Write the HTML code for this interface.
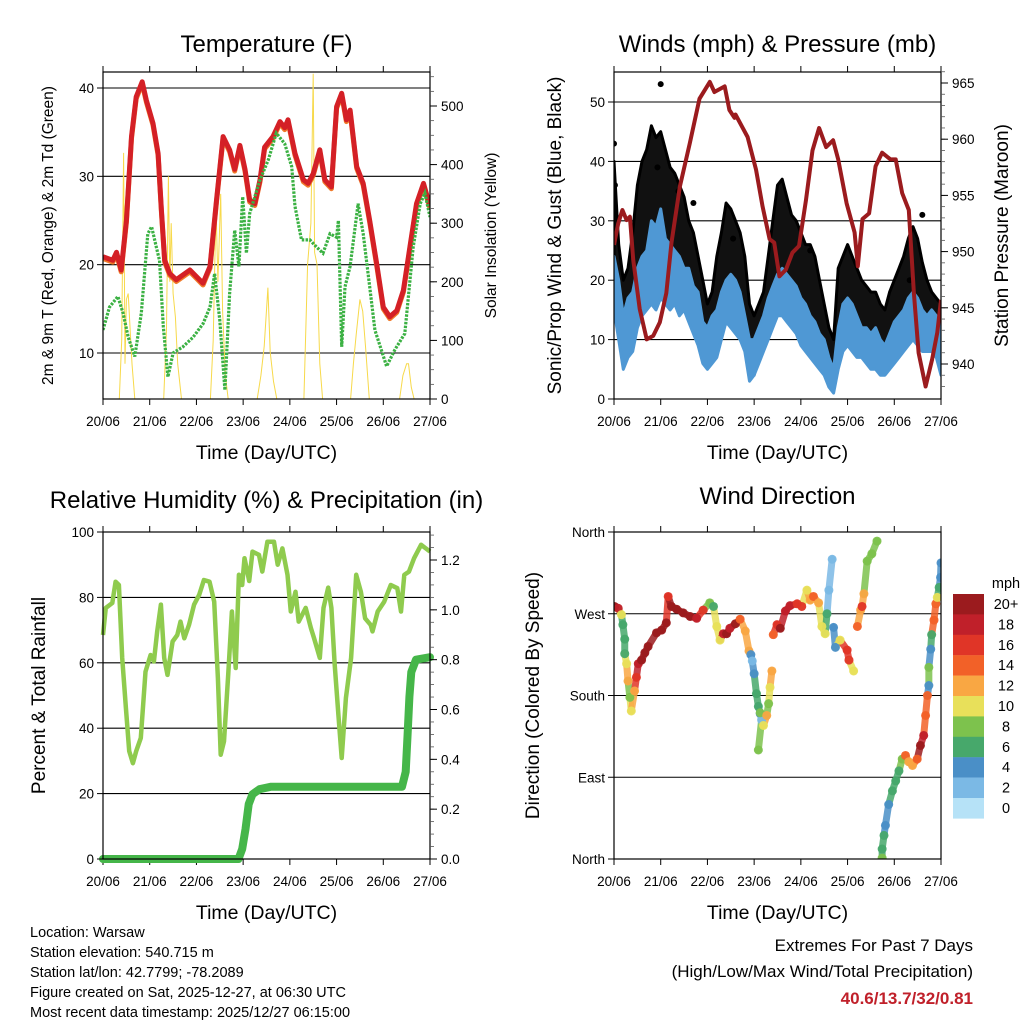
<!DOCTYPE html>
<html><head><meta charset="utf-8">
<style>
body{margin:0;background:#fff;}
svg{display:block;font-family:"Liberation Sans",Arial,sans-serif;}
</style></head>
<body>
<svg id="root" width="1024" height="1024" viewBox="0 0 1024 1024" xmlns="http://www.w3.org/2000/svg">
<g id="g1"></g>
<g id="g2"></g>
<g id="g3"></g>
<g id="g4"></g>
<g id="legend"></g>
<g font-size="14.5" fill="#000">
<text x="30" y="937">Location: Warsaw</text>
<text x="30" y="957">Station elevation: 540.715 m</text>
<text x="30" y="977">Station lat/lon: 42.7799; -78.2089</text>
<text x="30" y="997">Figure created on Sat, 2025-12-27, at 06:30 UTC</text>
<text x="30" y="1017">Most recent data timestamp: 2025/12/27 06:15:00</text>
</g>
<g text-anchor="end">
<text x="973" y="951" font-size="17">Extremes For Past 7 Days</text>
<text x="973" y="977" font-size="17">(High/Low/Max Wind/Total Precipitation)</text>
<text x="973" y="1004" font-size="17" font-weight="bold" fill="#c0202a">40.6/13.7/32/0.81</text>
</g>
</svg>
<script>
// ---------- data ----------
const dayLabels=["20/06","21/06","22/06","23/06","24/06","25/06","26/06","27/06"];
const tempDays=[0,0.21,0.29,0.39,0.5,0.61,0.71,0.84,0.93,1.07,1.18,1.25,1.32,1.43,1.57,1.86,2.14,2.29,2.43,2.57,2.71,2.82,2.93,3.04,3.14,3.25,3.36,3.46,3.64,3.79,3.89,3.96,4.11,4.29,4.39,4.5,4.64,4.75,4.89,5.0,5.11,5.21,5.29,5.43,5.57,5.71,5.86,6.0,6.14,6.29,6.43,6.57,6.71,6.86,7.0];
const tempF=[20.9,20.5,21.4,19.4,25,34.5,39,40.7,38.6,36,32.6,26.2,20.5,19,18.3,19.4,17.9,19.8,27.3,34.5,33,30.8,33.5,30.8,27.3,26.9,29.6,33.3,34.5,36.2,35.5,36.4,32.6,29.6,29.2,30.3,33,29.6,28.8,37.9,39.4,36.4,37.5,31.1,29.2,25,20.1,15.2,14.1,14.8,17.1,22,26.9,29.2,26.6];
const dewDays=[0,0.14,0.32,0.43,0.54,0.68,0.82,0.96,1.04,1.14,1.21,1.29,1.39,1.5,1.71,1.93,2.14,2.29,2.39,2.5,2.61,2.71,2.82,2.91,2.99,3.07,3.14,3.36,3.54,3.71,3.89,4.04,4.11,4.25,4.43,4.57,4.71,4.86,5.0,5.04,5.11,5.18,5.29,5.46,5.57,5.71,5.82,6.07,6.25,6.46,6.64,6.79,6.89,7.0];
const dewF=[12.6,15.2,16.4,14.5,11.8,9.6,14.5,23.5,24.3,22,20.5,13,7.3,10,10.7,11.8,13.3,15.2,19,13.7,5.8,16.7,23.9,19.8,27.7,21.3,25.8,29.6,31.9,34.9,33.7,31.1,26.6,22.8,22.8,22,21.3,23.5,23.1,25,10.7,17.5,19.8,26.9,23.5,17.5,12.6,8.5,10.4,12.2,22,26.9,28.1,25.4];
const solarDays=[0,0.35,0.4,0.44,0.47,0.5,0.54,0.58,0.62,0.68,1.3,1.36,1.4,1.43,1.46,1.5,1.55,1.6,1.68,2.3,2.36,2.42,2.46,2.52,2.56,2.62,2.68,3.3,3.38,3.45,3.53,3.58,3.65,3.72,4.3,4.38,4.45,4.5,4.53,4.58,4.64,4.7,5.3,5.36,5.42,5.5,5.56,5.62,5.7,6.35,6.42,6.5,6.54,6.6,6.66,7];
const solarW=[0,0,100,420,60,170,180,120,60,0,0,120,380,200,300,180,140,60,0,0,100,330,200,350,150,40,0,0,40,90,190,80,30,0,0,230,300,555,250,230,60,0,0,60,110,170,150,90,0,0,40,60,60,20,0,0];

const windDays=[0,0.1,0.2,0.3,0.4,0.5,0.6,0.7,0.8,0.9,1.0,1.1,1.2,1.3,1.4,1.5,1.6,1.7,1.8,1.9,2.0,2.1,2.2,2.3,2.4,2.5,2.6,2.7,2.8,2.9,3.0,3.1,3.2,3.3,3.4,3.5,3.6,3.7,3.8,3.9,4.0,4.1,4.2,4.3,4.4,4.5,4.6,4.7,4.8,4.9,5.0,5.1,5.2,5.3,5.4,5.5,5.6,5.7,5.8,5.9,6.0,6.1,6.2,6.3,6.4,6.5,6.6,6.7,6.8,6.9,7.0];
const sonicLo=[15,10,5,7,8,12,14,15,16,15,17,16,15,16,14,15,13,11,9,6,5,6,7,10,13,12,11,10,8,3,4,6,8,10,12,14,14,13,12,11,9,8,7,6,5,4,2,1,5,8,9,8,7,7,6,5,5,4,4,5,6,7,8,9,10,9,8,8,8,7,4];
const sonicHi=[24,20,14,17,18,22,24,25,30,29,32,27,26,25,24,22,22,19,18,13,12,14,15,18,20,21,20,18,14,10,10,12,14,17,19,21,22,21,20,19,17,16,14,13,11,10,7,5,12,16,17,16,14,12,12,11,12,10,9,11,13,14,15,17,18,17,15,14,15,14,12];
const gustLo=[20,12,10,10,12,18,20,22,24,22,22,20,20,22,20,18,18,16,14,10,8,8,10,14,18,18,16,14,10,4,4,8,10,14,16,20,22,20,18,16,14,12,12,10,8,6,4,2,8,12,14,13,12,11,10,9,8,8,7,8,10,11,12,14,16,14,12,11,10,9,8];
const gustHi=[40,26,20,22,28,36,40,42,46,44,45,42,39,38,36,34,30,28,24,20,16,18,24,28,33,32,30,28,24,16,14,16,18,24,30,36,37,34,31,30,28,26,26,24,20,16,12,10,22,24,26,24,22,20,19,18,18,16,15,18,20,22,24,27,29,27,23,20,18,17,16];
const gustOutDays=[0.0,1.0,0.93,1.38,1.7,2.55,4.2,6.6,6.33,0.02];
const gustOutMph=[43,53,39,35,33,27,25,31,20,36];
const presDays=[0,0.09,0.18,0.27,0.34,0.41,0.55,0.7,0.84,0.98,1.12,1.23,1.41,1.62,1.83,2.05,2.15,2.37,2.47,2.58,2.6,2.86,3.04,3.18,3.33,3.43,3.54,3.68,3.82,3.96,4.11,4.25,4.39,4.54,4.69,4.8,4.98,5.15,5.22,5.32,5.46,5.6,5.74,5.92,6.03,6.17,6.31,6.42,6.52,6.67,6.81,6.92,7.0];
const presMb=[950.6,952.5,953.7,952.8,953.1,949.3,944.9,942.2,942.5,943.7,946.3,950.8,955.8,959.6,963.6,965.1,964.2,964.7,962.6,961.9,962.2,960.2,957.3,954,951.1,950.8,947.8,948.4,949.9,950.5,954.6,959,961,959.3,959.9,958.2,954.3,951.7,948.7,952.9,953.4,957.6,958.8,958.2,958.2,955.2,953.7,946.3,941,938,940.4,942.8,945.7];

const rhDays=[0,0.06,0.2,0.27,0.34,0.41,0.49,0.56,0.64,0.71,0.81,0.91,1.02,1.09,1.16,1.24,1.31,1.38,1.49,1.59,1.66,1.74,1.84,1.95,2.06,2.16,2.28,2.38,2.46,2.52,2.59,2.68,2.76,2.84,2.91,2.98,3.03,3.13,3.2,3.34,3.41,3.52,3.66,3.74,3.84,3.95,4.02,4.12,4.19,4.34,4.45,4.52,4.64,4.72,4.82,4.89,4.96,5.04,5.11,5.2,5.31,5.42,5.52,5.61,5.73,5.77,5.88,6.02,6.16,6.3,6.38,6.45,6.55,6.66,6.81,6.91,7.0];
const rhPct=[68.5,76.8,78.3,84.8,83.8,61.5,46.2,33,29.3,33,37,57.3,62.4,60.4,69.6,77.8,61.5,56.3,66.5,68.5,72.6,67.5,71.6,77.8,80.8,85.3,84.8,78.7,55.3,31.9,36,56.3,75.7,58.4,86.9,83.8,92,85,94,93,87.9,97,97,90,95,86.9,75.7,81.7,72.6,76.8,70.6,67.5,61.5,76.8,83,76.8,59.4,44.1,30.9,49.2,61.5,86.9,81.7,73.6,71.6,69.6,75.7,78.7,83.8,82.8,75.7,86.9,87.9,92,96.1,95,94];
const precipDays=[0,2.9,2.98,3.05,3.12,3.2,3.35,3.6,6.4,6.48,6.52,6.56,6.6,6.7,7.0];
const precipIn=[0,0,0.04,0.12,0.22,0.26,0.28,0.29,0.29,0.35,0.5,0.65,0.75,0.8,0.81];

const dirDays=[0.01,0.09,0.16,0.19,0.23,0.23,0.27,0.3,0.34,0.37,0.44,0.48,0.52,0.59,0.66,0.73,0.91,1.02,1.12,1.16,1.23,1.34,1.48,1.63,1.77,1.91,2.05,2.13,2.2,2.27,2.34,2.41,2.48,2.6,2.7,2.81,2.89,2.93,2.96,3.0,3.05,3.09,3.13,3.16,3.09,3.13,3.2,3.27,3.31,3.34,3.38,3.41,3.49,3.56,3.67,3.77,3.92,4.02,4.13,4.2,4.27,4.38,4.45,4.52,4.56,4.6,4.67,4.7,4.74,4.84,4.99,5.03,5.13,5.21,5.28,5.31,5.35,5.42,5.52,5.63,5.74,5.74,5.78,5.81,5.88,5.96,6.03,6.1,6.17,6.24,6.31,6.39,6.49,6.56,6.63,6.67,6.71,6.74,6.74,6.78,6.8,6.85,6.89,6.92,6.96,6.99,7.0];
const dirDeg=[278,276,269,258,242,226,215,196,178,163,185,200,215,219,227,234,249,252,260,289,278,275,271,267,265,274,282,278,256,241,248,248,254,259,264,251,229,225,218,204,182,168,160,153,120,161,147,158,171,189,207,247,258,254,273,279,281,278,296,285,289,282,256,248,270,296,330,255,233,241,230,219,207,256,274,278,292,328,336,350,361,11,26,37,60,75,86,97,110,114,107,103,110,125,136,158,180,191,211,231,247,263,281,288,299,310,326,342,303];
const dirMph=[20,19,10,6,6,7,10,12,8,10,12,16,18,20,20,20,20,20,20,17,20,20,20,20,19,17,8,7,10,11,18,20,19,20,14,12,12,4,3,5,7,6,5,3,8,9,10,12,8,10,12,14,16,20,18,18,17,16,10,12,14,12,11,10,6,2,2,4,5,10,16,17,10,14,12,17,12,9,8,8,8,6,7,5,5,6,7,6,8,14,13,12,14,20,18,14,15,4,8,4,7,14,15,10,7,4,4,8];

const legendLabels=["20+","18","16","14","12","10","8","6","4","2","0"];
const legendColors=["#9b1b1e","#c0202a","#e03527","#f26128","#f9a743","#e8e05a","#7dc24d","#47a86b","#4a8fc7","#7bb9e5","#b6e2f7"];

// ---------- helpers ----------
const NS="http://www.w3.org/2000/svg";
function mk(parent,tag,attrs,txt){const e=document.createElementNS(NS,tag);for(const k in attrs)e.setAttribute(k,attrs[k]);if(txt!==undefined)e.textContent=txt;parent.appendChild(e);return e;}
function lin(d0,d1,r0,r1){return v=>r0+(v-d0)/(d1-d0)*(r1-r0);}
function pathD(xs,ys,fx,fy){return xs.map((d,i)=>(i?"L":"M")+fx(d).toFixed(1)+","+fy(ys[i]).toFixed(1)).join("");}
function bandD(xs,lo,hi,fx,fy){let s=xs.map((d,i)=>(i?"L":"M")+fx(d).toFixed(1)+","+fy(hi[i]).toFixed(1)).join("");for(let i=xs.length-1;i>=0;i--)s+="L"+fx(xs[i]).toFixed(1)+","+fy(lo[i]).toFixed(1);return s+"Z";}

function frame(g,L,T,R,B,title,titleY,ylab,ylabX,ylabSize,rlab,rlabX,rlabSize){
  const t=mk(g,"text",{x:(L+R)/2,y:titleY,"text-anchor":"middle","font-size":24});t.textContent=title;
  
  
  const xt=mk(g,"text",{x:(L+R)/2,y:B+60,"text-anchor":"middle","font-size":19.5},"Time (Day/UTC)");
  
  
  const yl=mk(g,"text",{x:ylabX,y:(T+B)/2,"text-anchor":"middle","font-size":ylabSize,transform:`rotate(-90 ${ylabX} ${(T+B)/2})`},ylab);
  
  
  if(rlab){const rl=mk(g,"text",{x:rlabX,y:(T+B)/2,"text-anchor":"middle","font-size":rlabSize,transform:`rotate(-90 ${rlabX} ${(T+B)/2})`},rlab);
  
  }
  const fx=lin(0,7,L,R);
  dayLabels.forEach((lab,i)=>{const x=fx(i);
    mk(g,"line",{x1:x,x2:x,y1:T-6,y2:T,stroke:"#000","stroke-width":1});
    mk(g,"line",{x1:x,x2:x,y1:B,y2:B+6,stroke:"#000","stroke-width":1});
    const tl=mk(g,"text",{x:x,y:B+27,"text-anchor":"middle","font-size":13.5},lab);
    
    
  });
  return fx;
}
function leftTicks(g,L,vals,fy,labels){vals.forEach((v,i)=>{const y=fy(v);mk(g,"line",{x1:L-6,x2:L,y1:y,y2:y,stroke:"#000"});
  const tl=mk(g,"text",{x:L-9,y:y+5,"text-anchor":"end","font-size":13.5},labels?labels[i]:v);
  
  });}
function rightTicks(g,R,vals,fy,labels,minor){
  if(minor)minor.forEach(v=>{const y=fy(v);mk(g,"line",{x1:R,x2:R+4,y1:y,y2:y,stroke:"#555","stroke-width":0.8});});
  vals.forEach((v,i)=>{const y=fy(v);mk(g,"line",{x1:R,x2:R+7,y1:y,y2:y,stroke:"#000"});
  const tl=mk(g,"text",{x:R+11,y:y+5,"font-size":13.5},labels?labels[i]:v);
  
  });}
function grid(g,L,R,ys){ys.forEach(y=>mk(g,"line",{x1:L,x2:R,y1:y,y2:y,stroke:"#000","stroke-width":1.1}));}
function border(g,L,T,R,B){mk(g,"rect",{x:L,y:T,width:R-L,height:B-T,fill:"none",stroke:"#000","stroke-width":1.2});}
function range(a,b,s){const r=[];for(let v=a;v<=b+1e-9;v+=s)r.push(+v.toFixed(4));return r;}

// ---------- panel 1 ----------
(function(){const g=document.getElementById("g1");const L=103,T=72,R=430,B=399;
  const fx=frame(g,L,T,R,B,"Temperature (F)",52,"2m & 9m T (Red, Orange) & 2m Td (Green)",53,15.5,"Solar Insolation (Yellow)",496,15.5);
  const fy=lin(10,40,353,88), fs=lin(0,500,399,106);
  grid(g,L,R,[10,20,30,40].map(fy));
  const cp=mk(g,"clipPath",{id:"c1"});mk(cp,"rect",{x:L,y:T,width:R-L,height:B-T});
  const p=mk(g,"g",{"clip-path":"url(#c1)"});
  const s=mk(p,"path",{d:pathD(solarDays,solarW,fx,fs),fill:"none",stroke:"#f7d94a","stroke-width":1});
  
  
  const o=mk(p,"path",{d:pathD(tempDays,tempF,fx,fy),fill:"none",stroke:"#f07a2a","stroke-width":5,transform:"translate(0,1.8)","stroke-linejoin":"round"});
  
  
  const r=mk(p,"path",{d:pathD(tempDays,tempF,fx,fy),fill:"none",stroke:"#d42026","stroke-width":5,"stroke-linejoin":"round"});
  
  
  const d=mk(p,"path",{d:pathD(dewDays,dewF,fx,fy),fill:"none",stroke:"#3bb143","stroke-width":3.2,"stroke-dasharray":"2.5 1.3"});
  
  
  border(g,L,T,R,B);
  leftTicks(g,L,[10,20,30,40],fy);
  rightTicks(g,R,[0,100,200,300,400,500],fs,null,range(0,550,25));
})();

// ---------- panel 2 ----------
(function(){const g=document.getElementById("g2");const L=614,T=72,R=941,B=399;
  const fx=frame(g,L,T,R,B,"Winds (mph) & Pressure (mb)",52,"Sonic/Prop Wind & Gust (Blue, Black)",561,19,"Station Pressure (Maroon)",1008,19);
  const fy=lin(0,50,399,102), fp=lin(940,965,364,83);
  grid(g,L,R,[10,20,30,40,50].map(fy));
  const cp=mk(g,"clipPath",{id:"c2"});mk(cp,"rect",{x:L,y:T,width:R-L,height:B-T});
  const p=mk(g,"g",{"clip-path":"url(#c2)"});
  const gb=mk(p,"path",{d:bandD(windDays,gustLo,gustHi,fx,fy),fill:"#111",stroke:"#000","stroke-width":3,"stroke-linejoin":"round"});
  
  
  gustOutDays.forEach((dd,i)=>{const c=mk(p,"circle",{cx:fx(dd),cy:fy(gustOutMph[i]),r:3,fill:"#000"});
    
    });
  const sb=mk(p,"path",{d:bandD(windDays,sonicLo,sonicHi,fx,fy),fill:"#4f98d4",stroke:"#4f98d4","stroke-width":3,"stroke-linejoin":"round"});
  
  
  const pr=mk(p,"path",{d:pathD(presDays,presMb,fx,fp),fill:"none",stroke:"#9b1b1e","stroke-width":4,"stroke-linejoin":"round"});
  
  
  border(g,L,T,R,B);
  leftTicks(g,L,[0,10,20,30,40,50],fy);
  rightTicks(g,R,[940,945,950,955,960,965],fp,null,range(938,966,1));
})();

// ---------- panel 3 ----------
(function(){const g=document.getElementById("g3");const L=103,T=532,R=430,B=859;
  const fx=frame(g,L,T,R,B,"Relative Humidity (%) & Precipitation (in)",508,"Percent & Total Rainfall",45,19,null);
  const fy=lin(0,100,859,532), fr=lin(0,1.2,859,560);
  grid(g,L,R,[20,40,60,80].map(fy));
  const cp=mk(g,"clipPath",{id:"c3"});mk(cp,"rect",{x:L-6,y:T,width:R-L+12,height:B-T+6});
  const p=mk(g,"g",{"clip-path":"url(#c3)"});
  const rh=mk(p,"path",{d:pathD(rhDays,rhPct,fx,fy),fill:"none",stroke:"#8fcb4e","stroke-width":4.5,"stroke-linejoin":"round"});
  
  
  const pc=mk(p,"path",{d:pathD(precipDays,precipIn,fx,fr),fill:"none",stroke:"#45b649","stroke-width":8,"stroke-linejoin":"round","stroke-linecap":"round"});
  
  
  border(g,L,T,R,B);
  leftTicks(g,L,[0,20,40,60,80,100],fy);
  rightTicks(g,R,[0,0.2,0.4,0.6,0.8,1.0,1.2],fr,["0.0","0.2","0.4","0.6","0.8","1.0","1.2"],range(0,1.3,0.05));
})();

// ---------- panel 4 ----------
(function(){const g=document.getElementById("g4");const L=614,T=532,R=941,B=859;
  const fx=frame(g,L,T,R,B,"Wind Direction",504,"Direction (Colored By Speed)",539,19,null);
  const fy=lin(0,360,859,532);
  grid(g,L,R,[90,180,270].map(fy));
  leftTicks(g,L,[0,90,180,270,360],fy,["North","East","South","West","North"]);
  function col(m){const i=Math.max(0,Math.min(10,Math.floor(m/2)));return legendColors[10-i];}
  const cp=mk(g,"clipPath",{id:"c4"});mk(cp,"rect",{x:L,y:T,width:R-L,height:B-T});
  const p=mk(g,"g",{"clip-path":"url(#c4)"});
  const wrap=v=>v>360?v-360:v;
  for(let i=1;i<dirDays.length;i++){
    const a=wrap(dirDeg[i-1]),b=wrap(dirDeg[i]);
    if(Math.abs(a-b)<40 && Math.abs(dirDays[i]-dirDays[i-1])<0.2){
      const sg=mk(p,"line",{x1:fx(dirDays[i-1]),y1:fy(a),x2:fx(dirDays[i]),y2:fy(b),stroke:col(dirMph[i]),"stroke-width":7,"stroke-linecap":"round","stroke-opacity":0.85});
      
      
    }
  }
  dirDays.forEach((dd,i)=>{const v=wrap(dirDeg[i]);
    const c=mk(p,"circle",{cx:fx(dd),cy:fy(v),r:4.5,fill:col(dirMph[i]),"fill-opacity":0.95});
    
    });
  border(g,L,T,R,B);
})();

// ---------- legend ----------
(function(){const g=document.getElementById("legend");
  const t=mk(g,"text",{x:1006,y:588,"text-anchor":"middle","font-size":14.5},"mph");
  
  
  legendLabels.forEach((lab,i)=>{const y=594+i*20.4;
    const r=mk(g,"rect",{x:953,y:y,width:31,height:20.6,fill:legendColors[i]});
    
    
    const tx=mk(g,"text",{x:1006,y:y+15,"text-anchor":"middle","font-size":14.5},lab);
    
    });
})();
</script>
</body></html>
